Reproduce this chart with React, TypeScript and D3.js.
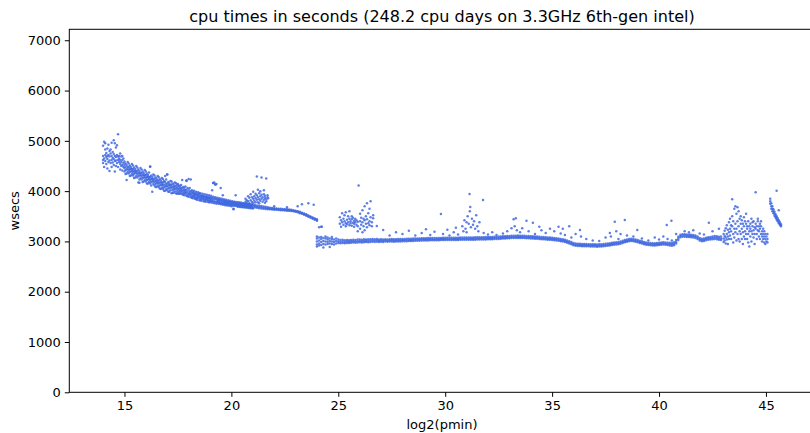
import React, { useRef, useEffect } from 'react'
import * as d3 from 'd3'

// each row: [log2(pmin), wsecs, wsecs, ...]
const headRows: number[][] = [
    [14.0, 4700, 4560, 4900, 4620], [14.05, 4650, 4980, 4480], [14.1, 4720, 4600, 4830, 4950],
    [14.15, 4680, 4540, 4760], [14.2, 4640, 4850, 4450, 4700], [14.25, 4580, 4720, 4920],
    [14.3, 4690, 4400, 4610, 4800], [14.35, 4750, 4560, 4830], [14.4, 4620, 4700, 4480, 4960],
    [14.45, 4570, 4780, 4660], [14.5, 4640, 5010, 4520, 4740], [14.55, 4600, 4950, 4390, 4700],
    [14.6, 4680, 4500, 4870, 4610], [14.65, 4560, 4910, 4720], [14.7, 5130, 4620, 4480, 4690],
    [14.75, 4580, 4700, 4650], [14.8, 4540, 4750, 4620, 4430], [14.85, 4690, 4580, 4500],
    [14.9, 4520, 4620, 4700, 4410], [14.95, 4560, 4480, 4650],
    [15.0, 4460, 4520, 4390, 4590], [15.05, 4480, 4420, 4550, 4340], [15.1, 4430, 4520, 4350, 4220],
    [15.15, 4480, 4380, 4580, 4440], [15.2, 4420, 4480, 4350, 4550], [15.25, 4440, 4380, 4510, 4300],
    [15.3, 4390, 4480, 4310, 4440], [15.35, 4440, 4340, 4540, 4400], [15.4, 4380, 4440, 4310, 4510],
    [15.45, 4400, 4340, 4470, 4260], [15.5, 4360, 4440, 4270, 4400], [15.55, 4400, 4300, 4500, 4360],
    [15.6, 4340, 4400, 4270, 4470], [15.65, 4360, 4300, 4430, 4170], [15.7, 4310, 4400, 4230, 4360],
    [15.75, 4360, 4260, 4460, 4320], [15.8, 4300, 4360, 4230, 4430], [15.85, 4320, 4260, 4390, 4180],
    [15.9, 4270, 4360, 4190, 4320], [15.95, 4320, 4220, 4420, 4280], [16.0, 4260, 4320, 4190, 4390],
    [16.05, 4280, 4220, 4350, 4150], [16.1, 4230, 4320, 4150, 4280], [16.15, 4280, 4180, 4370, 4240],
    [16.2, 4220, 4280, 4150, 4490], [16.25, 4240, 4180, 4310, 4110], [16.3, 4190, 4280, 3990, 4240],
    [16.35, 4240, 4140, 4330, 4200], [16.4, 4180, 4240, 4110, 4310], [16.45, 4200, 4140, 4270, 4080],
    [16.5, 4160, 4250, 4080, 4210], [16.55, 4210, 4110, 4300, 4170], [16.6, 4150, 4210, 4080, 4280],
    [16.65, 4170, 4110, 4240, 4050], [16.7, 4120, 4210, 4040, 4170], [16.75, 4170, 4070, 4260, 4130],
    [16.8, 4110, 4170, 4040, 4240], [16.85, 4130, 4070, 4200, 4010], [16.9, 4090, 4180, 4010, 4300],
    [16.95, 4140, 4040, 4230, 4100], [17.0, 4090, 4150, 4020, 4330], [17.05, 4110, 4050, 4180, 3990],
    [17.1, 4060, 4150, 3990, 4120], [17.15, 4120, 4020, 4200, 4080], [17.2, 4060, 4120, 3960, 4190],
    [17.25, 4080, 4020, 4150, 3970], [17.3, 4040, 4130, 3970, 4090], [17.35, 4090, 4000, 4170, 4050],
    [17.4, 4040, 4100, 3960, 4160], [17.45, 4060, 4000, 4130, 3950],
]

const slopeRows: number[][] = [
    [17.5, 4030, 4090, 3960, 4140], [17.55, 4050, 3990, 4110, 3950], [17.6, 4010, 4090, 3950, 4050],
    [17.65, 4050, 3970, 4120, 4020], [17.7, 4000, 4060, 3940, 4220], [17.75, 4020, 3960, 4080, 3930],
    [17.8, 3980, 4060, 3920, 4020], [17.85, 4020, 3950, 4090, 3980], [17.9, 3970, 4030, 3910, 4200],
    [17.95, 3990, 3930, 4060, 3900], [18.0, 3950, 4030, 3890, 4240], [18.05, 3990, 3920, 4060, 3960],
    [18.1, 3940, 4000, 3880, 4230], [18.15, 3960, 3900, 4020, 3870], [18.2, 3910, 3990, 3860, 3960],
    [18.25, 3950, 3880, 4010, 3920], [18.3, 3900, 3970, 3850, 3940], [18.35, 3930, 3870, 3990, 3840],
    [18.4, 3880, 3950, 3830, 3930], [18.45, 3920, 3860, 3980, 3890], [18.5, 3880, 3930, 3820, 3960],
    [18.55, 3900, 3850, 3960, 3820], [18.6, 3860, 3920, 3810, 3900], [18.65, 3900, 3840, 3950, 3870],
    [18.7, 3850, 3910, 3800, 3890], [18.75, 3880, 3830, 3940, 3800], [18.8, 3840, 3900, 3790, 3880],
    [18.85, 3880, 3820, 3930, 3850], [18.9, 3830, 3890, 3790, 3870], [18.95, 3860, 3810, 3920, 3780],
    [19.0, 3820, 3880, 3780, 3860], [19.05, 3860, 3800, 3910, 3830], [19.1, 3810, 3870, 3770, 4020],
    [19.15, 3840, 3790, 3890, 4160], [19.2, 3800, 3860, 3760, 4170], [19.25, 3840, 3780, 3880, 4130],
    [19.3, 3790, 3850, 3750, 4140], [19.35, 3830, 3770, 3870, 3800], [19.4, 3780, 3840, 3750, 3820],
    [19.45, 3820, 3760, 3860, 3790], [19.5, 3770, 3830, 3740, 4060], [19.55, 3810, 3750, 3850, 3780],
    [19.6, 3760, 3820, 3730, 3920], [19.65, 3800, 3745, 3840, 3770], [19.7, 3755, 3810, 3720, 3790],
    [19.75, 3790, 3740, 3830, 3760], [19.8, 3745, 3800, 3715, 3780], [19.85, 3785, 3730, 3820, 3750],
    [19.9, 3740, 3795, 3710, 3775], [19.95, 3775, 3725, 3810, 3745], [20.0, 3730, 3785, 3700, 3765],
    [20.05, 3770, 3715, 3800, 3740], [20.1, 3720, 3780, 3650, 3760], [20.15, 3760, 3710, 3790, 3730],
    [20.2, 3715, 3770, 3920, 3750], [20.25, 3755, 3705, 3785, 3725], [20.3, 3710, 3765, 3690, 3745],
    [20.35, 3748, 3700, 3780, 3720], [20.4, 3705, 3758, 3685, 3738], [20.45, 3742, 3695, 3772, 3715],
    [20.5, 3700, 3750, 3680, 3732], [20.55, 3736, 3690, 3765, 3708], [20.6, 3695, 3745, 3675, 3726],
    [20.65, 3730, 3685, 3758, 3702], [20.7, 3690, 3738, 3670, 3720], [20.75, 3724, 3680, 3750, 3696],
    [20.8, 3684, 3730, 3665, 3714], [20.85, 3718, 3675, 3744, 3690], [20.9, 3678, 3724, 3660, 3708],
    [20.95, 3712, 3670, 3738, 3684], [21.0, 3672, 3718, 3655, 3702],
    [21.1, 3700, 3675, 3725], [21.2, 3690, 3670, 3715], [21.3, 3685, 3660, 3710],
    [21.4, 3680, 3655, 3705], [21.5, 3670, 3650, 3695], [21.6, 3665, 3645, 3690],
    [21.7, 3660, 3640, 3680], [21.8, 3655, 3640, 3670], [21.9, 3650, 3635, 3665],
    [22.0, 3645, 3630, 3660, 3700], [22.1, 3640, 3628, 3655], [22.2, 3638, 3625, 3650],
    [22.3, 3635, 3620, 3648], [22.4, 3630, 3618, 3645], [22.5, 3628, 3615, 3640],
    [22.6, 3625, 3612, 3638, 3680], [22.7, 3620, 3608, 3633], [22.8, 3615, 3603, 3628],
    [22.9, 3610, 3598, 3622], [23.0, 3600, 3588, 3612], [23.1, 3590, 3578, 3602, 3700],
    [23.2, 3575, 3562, 3588], [23.3, 3560, 3548, 3572, 3740], [23.4, 3545, 3532, 3556],
    [23.5, 3525, 3512, 3538], [23.6, 3505, 3492, 3518, 3760], [23.7, 3485, 3472, 3498],
    [23.8, 3465, 3452, 3478], [23.85, 3730], [23.9, 3445, 3432, 3458], [24.0, 3425, 3410, 3440],
]

const bumpRows: number[][] = [
    [20.66, 3790, 3850], [20.72, 3820, 3760], [20.78, 3900, 3800], [20.84, 3760, 3870],
    [20.9, 3940, 3820], [20.96, 3790, 3880], [21.02, 3990, 3850, 3760], [21.07, 3900, 3810],
    [21.13, 3950, 3780, 3860], [21.19, 3830, 3920, 4290], [21.24, 3880, 4030, 3780],
    [21.3, 3960, 3840, 3760], [21.35, 3900, 3810, 4000], [21.41, 3850, 3930, 4270],
    [21.46, 3790, 3880], [21.52, 3940, 3830, 4020], [21.57, 3770, 3870, 3910],
    [21.63, 3840, 4250, 3800], [21.69, 3880, 3920], [21.72, 3860],
]

const floorRows: number[][] = [
    [24.0, 3000, 2940, 3060, 3100, 2900], [24.1, 3020, 2960, 3080, 2920, 3280],
    [24.2, 2990, 3050, 2930, 3090, 3292], [24.3, 3010, 2950, 3070, 2880],
    [24.4, 3000, 3060, 2940, 3100], [24.5, 2990, 3040, 2950, 3080],
    [24.6, 3010, 2960, 3060, 2890], [24.7, 3000, 3050, 2950, 3090],
    [24.8, 2990, 3040, 2940], [24.9, 3010, 2960, 3060],
    [25.0, 3000, 2970, 3040], [25.1, 2995, 2965, 3030], [25.2, 3000, 2970, 3035],
    [25.3, 2990, 2965, 3025], [25.4, 3000, 2970, 3030], [25.5, 2995, 2970, 3025],
    [25.6, 3000, 2975, 3030], [25.7, 3005, 2980, 3035], [25.8, 3000, 2975, 3030],
    [25.9, 3005, 2980, 3040], [26.0, 3010, 2985, 3040], [26.1, 3005, 2980, 3035],
    [26.2, 3010, 2985, 3045], [26.3, 3015, 2990, 3040], [26.4, 3010, 2985, 3045],
    [26.5, 3015, 2990, 3045], [26.6, 3020, 2995, 3050], [26.7, 3015, 2990, 3045],
    [26.8, 3020, 2995, 3050], [26.9, 3015, 2990, 3040], [27.0, 3020, 2995, 3045],
    [27.1, 3015, 2990, 3040], [27.2, 3020, 2998, 3045], [27.3, 3018, 2995, 3040],
    [27.4, 3020, 2998, 3045], [27.5, 3022, 3000, 3048], [27.6, 3018, 2995, 3042],
    [27.7, 3020, 2998, 3045], [27.8, 3024, 3000, 3048], [27.9, 3022, 3000, 3046],
    [28.0, 3025, 3002, 3050], [28.1, 3026, 3004, 3050], [28.2, 3028, 3006, 3052],
    [28.3, 3030, 3008, 3055], [28.4, 3030, 3010, 3054], [28.5, 3032, 3010, 3056],
    [28.6, 3034, 3012, 3058], [28.7, 3035, 3014, 3060], [28.8, 3036, 3015, 3060],
    [28.9, 3038, 3016, 3062], [29.0, 3040, 3018, 3064], [29.1, 3040, 3020, 3064],
    [29.2, 3042, 3020, 3066], [29.3, 3042, 3022, 3066], [29.4, 3044, 3022, 3068],
    [29.5, 3044, 3024, 3068], [29.6, 3045, 3024, 3070], [29.7, 3045, 3025, 3070],
    [29.8, 3046, 3026, 3070], [29.9, 3046, 3026, 3072], [30.0, 3047, 3027, 3072],
    [30.1, 3047, 3027, 3072], [30.2, 3048, 3028, 3073], [30.3, 3048, 3028, 3074],
    [30.4, 3049, 3029, 3074], [30.5, 3050, 3030, 3075], [30.6, 3050, 3030, 3075],
    [30.7, 3051, 3031, 3076], [30.8, 3052, 3032, 3078], [30.9, 3052, 3032, 3078],
    [31.0, 3053, 3033, 3078], [31.1, 3053, 3033, 3079], [31.2, 3054, 3034, 3080],
    [31.3, 3055, 3035, 3080], [31.4, 3055, 3035, 3081], [31.5, 3056, 3036, 3082],
    [31.6, 3057, 3037, 3082], [31.7, 3058, 3038, 3084], [31.8, 3059, 3039, 3085],
    [31.9, 3060, 3040, 3086], [32.0, 3061, 3041, 3087], [32.1, 3062, 3042, 3088],
    [32.2, 3064, 3044, 3090], [32.3, 3066, 3046, 3092], [32.4, 3068, 3048, 3094],
    [32.5, 3070, 3050, 3096], [32.6, 3073, 3053, 3099], [32.7, 3076, 3056, 3102],
    [32.8, 3079, 3059, 3105], [32.9, 3082, 3062, 3108], [33.0, 3085, 3065, 3110],
    [33.1, 3087, 3067, 3112], [33.2, 3089, 3069, 3114], [33.3, 3090, 3070, 3115],
    [33.4, 3090, 3070, 3116], [33.5, 3090, 3070, 3115], [33.6, 3089, 3069, 3114],
    [33.7, 3087, 3067, 3112], [33.8, 3085, 3065, 3110], [33.9, 3083, 3063, 3108],
    [34.0, 3080, 3060, 3105], [34.1, 3078, 3058, 3103], [34.2, 3075, 3055, 3100],
    [34.3, 3072, 3052, 3097], [34.4, 3069, 3049, 3094], [34.5, 3065, 3045, 3090],
    [34.6, 3062, 3042, 3087], [34.7, 3059, 3039, 3084], [34.8, 3055, 3035, 3080],
    [34.9, 3051, 3031, 3076], [35.0, 3047, 3027, 3072], [35.1, 3043, 3023, 3068],
    [35.2, 3038, 3018, 3063], [35.3, 3032, 3012, 3057], [35.4, 3025, 3005, 3050],
    [35.5, 3017, 2997, 3042], [35.6, 3007, 2987, 3032], [35.7, 2995, 2975, 3020],
    [35.8, 2980, 2960, 3005], [35.9, 2962, 2942, 2987], [36.0, 2945, 2925, 2970],
    [36.1, 2935, 2915, 2960], [36.2, 2930, 2910, 2955], [36.3, 2928, 2908, 2953],
    [36.4, 2926, 2906, 2950], [36.5, 2925, 2905, 2950], [36.6, 2924, 2904, 2948],
    [36.7, 2922, 2902, 2946], [36.8, 2920, 2900, 2945], [36.9, 2918, 2898, 2943],
    [37.0, 2917, 2897, 2942], [37.1, 2916, 2896, 2940], [37.2, 2918, 2898, 2942],
    [37.3, 2920, 2900, 2945], [37.4, 2924, 2904, 2949], [37.5, 2928, 2908, 2953],
    [37.6, 2934, 2914, 2959], [37.7, 2940, 2920, 2965], [37.8, 2947, 2927, 2972],
    [37.9, 2953, 2933, 2978], [38.0, 2958, 2938, 2983], [38.1, 2965, 2945, 2990],
    [38.2, 2975, 2955, 3000], [38.3, 2988, 2968, 3013], [38.4, 3002, 2982, 3027],
    [38.5, 3015, 2995, 3040], [38.6, 3025, 3005, 3050], [38.7, 3030, 3010, 3055],
    [38.8, 3025, 3005, 3050], [38.9, 3015, 2995, 3040], [39.0, 3002, 2982, 3027],
    [39.1, 2990, 2970, 3015], [39.2, 2978, 2958, 3003], [39.3, 2966, 2946, 2991],
    [39.4, 2956, 2936, 2981], [39.5, 2948, 2928, 2973], [39.6, 2942, 2922, 2967],
    [39.7, 2938, 2918, 2963], [39.8, 2940, 2920, 2965], [39.9, 2945, 2925, 2970],
    [40.0, 2950, 2930, 2975], [40.1, 2955, 2935, 2980], [40.2, 2958, 2938, 2983],
    [40.3, 2955, 2935, 2980], [40.4, 2950, 2930, 2975], [40.5, 2945, 2920, 2975],
    [40.6, 2940, 2915, 2970], [40.7, 2950, 2925, 2985], [40.8, 2990, 2960, 3030],
    [40.9, 3060, 3030, 3095], [41.0, 3110, 3085, 3135], [41.1, 3120, 3095, 3145],
    [41.2, 3118, 3093, 3143], [41.3, 3115, 3090, 3140], [41.4, 3112, 3087, 3137],
    [41.5, 3110, 3085, 3135], [41.6, 3105, 3080, 3130], [41.7, 3095, 3070, 3120],
    [41.8, 3075, 3050, 3100], [41.9, 3045, 3020, 3070], [42.0, 3030, 3005, 3055],
    [42.1, 3035, 3010, 3060], [42.2, 3050, 3025, 3075], [42.3, 3060, 3035, 3085],
    [42.4, 3065, 3040, 3090], [42.5, 3070, 3045, 3100], [42.6, 3080, 3050, 3110],
    [42.7, 3075, 3045, 3105], [42.8, 3065, 3035, 3095], [42.9, 3060, 3030, 3100],
]

const clusterRows: number[][] = [
    [25.07, 3350, 3480], [25.13, 3420, 3290], [25.18, 3380, 3560], [25.24, 3330, 3450],
    [25.29, 3400, 3520], [25.35, 3360, 3580, 3300], [25.41, 3430, 3340], [25.46, 3380, 3500],
    [25.52, 3320, 3450, 3600], [25.57, 3400, 3360], [25.63, 3440, 3310, 3500], [25.68, 3370, 3470],
    [25.74, 3410, 3290, 3350], [25.79, 3450, 3380], [25.85, 3330, 3420], [25.91, 3390, 3200, 3300],
    [25.95, 4110], [26.02, 3400, 3550, 3250], [26.07, 3330, 3470], [26.13, 3380, 3620, 3180],
    [26.18, 3450, 3300], [26.23, 3420, 3700, 3220], [26.29, 3350, 3500], [26.34, 3440, 3280, 3760],
    [26.4, 3560, 3360], [26.46, 3400, 3650, 3320], [26.51, 3480, 3800], [26.57, 3380, 3300],
    [26.63, 3460, 3520],
]

const tailRows: number[][] = [
    [43.02, 3060, 3150, 2990], [43.07, 3110, 3020, 3210], [43.12, 3080, 3260, 2960],
    [43.17, 3150, 3040, 3320], [43.22, 3100, 3230, 2950], [43.27, 3180, 3380, 3050],
    [43.32, 3250, 3120, 3450], [43.37, 3200, 3050, 3320], [43.42, 3300, 3500, 3840],
    [43.47, 3150, 3400, 2980], [43.52, 3250, 3650, 3080], [43.57, 3350, 3700, 3180],
    [43.62, 3550, 3250, 3020], [43.67, 3680, 3400, 3150], [43.72, 3300, 3600, 3050],
    [43.77, 3450, 3200, 3000], [43.82, 3350, 3150, 3500], [43.87, 3250, 3050, 3420],
    [43.92, 3180, 3350, 2950], [43.97, 3300, 3100, 3480], [44.02, 3200, 3400, 3050],
    [44.07, 3350, 3150, 3550], [44.12, 3250, 3050, 3300], [44.17, 3150, 3400, 2980],
    [44.22, 3300, 3200, 2900], [44.27, 3100, 3350, 3250], [44.32, 3450, 3200, 3000],
    [44.37, 3300, 3150, 3380], [44.42, 3220, 3080, 3400], [44.47, 3280, 2950, 3150],
    [44.52, 3980, 3250, 3350], [44.57, 3150, 3300, 3050], [44.62, 3400, 3220, 3450],
    [44.67, 3300, 3100, 3200], [44.72, 3350, 3250, 3050], [44.77, 3150, 3400, 3300],
    [44.82, 3200, 3100, 3000], [44.87, 3250, 3150, 3050], [44.92, 3100, 2980, 3200],
    [44.97, 3050, 3150, 2950], [45.02, 3100, 3000], [45.07, 3050, 2980, 3150],
    [45.2, 3850, 3750, 3800], [45.25, 3700, 3760, 3650], [45.3, 3650, 3700, 3600],
    [45.35, 3600, 3640, 3560], [45.4, 3550, 3590, 3510], [45.45, 3500, 3540, 3470],
    [45.5, 3470, 3500, 3430, 4010], [45.55, 3430, 3460, 3400], [45.6, 3390, 3420, 3360, 3620],
    [45.65, 3350, 3380, 3330], [45.7, 3320, 3340, 3300],
]

// sparse points sitting above the main band
const strays: number[][] = [
    [15.7, 4167], [16.2, 4485], [17.0, 4330], [17.9, 4215], [19.15, 4160], [19.25, 4130],
    [20.1, 3640], [24.23, 3292],
    [26.8, 3306], [27.1, 3227], [27.4, 3120], [27.7, 3180], [28.0, 3150], [28.3, 3210],
    [28.6, 3120], [28.9, 3170], [29.1, 3240], [29.3, 3130], [29.5, 3190], [29.8, 3545],
    [29.9, 3150], [30.1, 3230], [30.2, 3120], [30.4, 3180], [30.5, 3270], [30.6, 3140],
    [30.8, 3300], [30.85, 3200], [30.9, 3420], [30.95, 3250], [31.0, 3380], [31.0, 3180],
    [31.05, 3500], [31.1, 3350], [31.14, 3942], [31.15, 3600], [31.17, 3685], [31.2, 3280],
    [31.25, 3450], [31.3, 3330], [31.35, 3400], [31.4, 3250], [31.45, 3520], [31.5, 3300],
    [31.55, 3200], [31.6, 3380], [31.77, 3823], [31.8, 3170], [32.0, 3140], [32.2, 3180],
    [32.4, 3130], [32.7, 3160], [32.9, 3200], [33.1, 3260], [33.2, 3440], [33.25, 3300],
    [33.3, 3460], [33.35, 3220], [33.5, 3180], [33.6, 3260], [33.8, 3411], [33.9, 3200],
    [34.1, 3372], [34.2, 3150], [34.4, 3292], [34.5, 3220], [34.7, 3170], [34.9, 3250],
    [35.1, 3200], [35.3, 3290], [35.4, 3160], [35.5, 3250], [35.6, 3130], [35.8, 3300],
    [35.9, 3080], [36.1, 3150], [36.3, 3227], [36.35, 3100], [36.6, 3050], [36.9, 3020],
    [37.2, 3010], [37.5, 3080], [37.7, 3167], [37.75, 3100], [37.93, 3392], [38.0, 3200],
    [38.1, 3050], [38.2, 3150], [38.4, 3425], [38.5, 3120], [38.8, 3100], [38.98, 3227],
    [39.2, 3060], [39.5, 3020], [39.8, 3080], [40.0, 3040], [40.2, 3100], [40.36, 3326],
    [40.4, 3050], [40.58, 3411], [40.6, 3020], [40.8, 3150], [41.2, 3200], [41.4, 3180],
    [41.6, 3220], [41.9, 3160], [42.1, 3140], [42.33, 3372], [42.5, 3200], [42.8, 3250],
]

const xTicks = [15, 20, 25, 30, 35, 40, 45]
const yTicks = [0, 1000, 2000, 3000, 4000, 5000, 6000, 7000]

const titleText = 'cpu times in seconds (248.2 cpu days on 3.3GHz 6th-gen intel)'
const xLabel = 'log2(pmin)'
const yLabel = 'wsecs'

const toPoints = (rows: number[][]) =>
    rows.flatMap(([x, ...ys]) => ys.map((y) => ({ x, y })))

const CpuChart: React.FC = () => {
    const svgRef = useRef<SVGSVGElement>(null)

    useEffect(() => {
        if (!svgRef.current) return
        const svg = d3.select(svgRef.current)
        svg.selectAll('*').remove()

        const width = 810
        const height = 433
        const margin = { top: 29.3, right: -4.7, bottom: 40.7, left: 69.3 }
        const innerWidth = width - margin.left - margin.right
        const innerHeight = height - margin.top - margin.bottom
        const font = '"DejaVu Sans", sans-serif'

        const x = d3.scaleLinear().domain([12.42, 47.28]).range([0, innerWidth])
        const y = d3.scaleLinear().domain([0, 7218]).range([innerHeight, 0])

        const g = svg.append('g').attr('transform', `translate(${margin.left},${margin.top})`)

        const points = [
            ...toPoints(headRows),
            ...toPoints(slopeRows),
            ...toPoints(bumpRows),
            ...toPoints(floorRows),
            ...toPoints(clusterRows),
            ...toPoints(tailRows),
            ...toPoints(strays),
        ]

        g.append('g')
            .selectAll('circle')
            .data(points)
            .enter()
            .append('circle')
            .attr('cx', (d) => x(d.x))
            .attr('cy', (d) => y(d.y))
            .attr('r', 1.25)
            .attr('fill', '#4169e1')
            .attr('fill-opacity', 0.85)

        // axes
        const xAxis = d3.axisBottom(x).tickValues(xTicks).tickSize(4.5).tickPadding(4)
        const yAxis = d3
            .axisLeft(y)
            .tickValues(yTicks)
            .tickFormat(d3.format('d'))
            .tickSize(4.5)
            .tickPadding(4)

        const xg = g.append('g').attr('transform', `translate(0,${innerHeight})`).call(xAxis)
        const yg = g.append('g').call(yAxis)
        for (const ax of [xg, yg]) {
            ax.select('.domain').remove()
            ax.selectAll('line').attr('stroke', '#000').attr('stroke-width', 1)
            ax.selectAll('text')
                .attr('fill', '#000')
                .style('font-family', font)
                .style('font-size', '13px')
        }

        // frame
        g.append('rect')
            .attr('x', 0)
            .attr('y', 0)
            .attr('width', innerWidth)
            .attr('height', innerHeight)
            .attr('fill', 'none')
            .attr('stroke', '#000')
            .attr('stroke-width', 1)

        svg.append('text')
            .attr('x', margin.left + innerWidth / 2)
            .attr('y', 21.5)
            .attr('text-anchor', 'middle')
            .style('font-family', font)
            .style('font-size', '16px')
            .text(titleText)

        svg.append('text')
            .attr('x', margin.left + innerWidth / 2)
            .attr('y', 429)
            .attr('text-anchor', 'middle')
            .style('font-family', font)
            .style('font-size', '13px')
            .text(xLabel)

        svg.append('text')
            .attr('transform', `translate(19,${margin.top + innerHeight / 2}) rotate(-90)`)
            .attr('text-anchor', 'middle')
            .style('font-family', font)
            .style('font-size', '13px')
            .text(yLabel)
    }, [])

    return (
        <svg
            ref={svgRef}
            width={810}
            height={433}
            style={{ position: 'absolute', left: 0, top: 0, background: '#fff' }}
        />
    )
}

export default function App() {
    return <CpuChart />
}
